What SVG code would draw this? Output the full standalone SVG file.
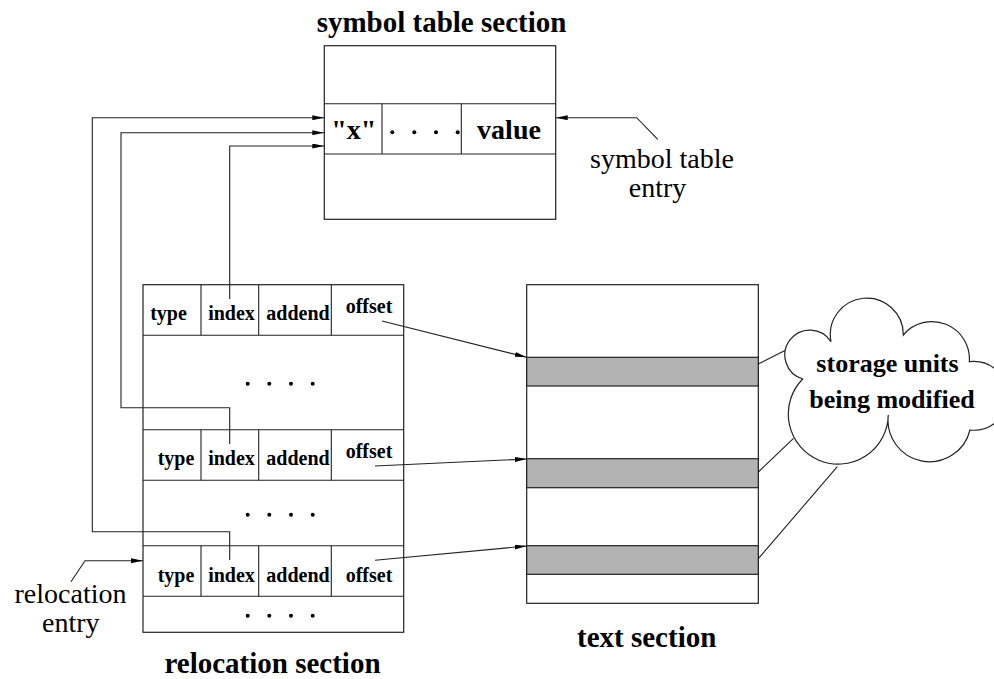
<svg xmlns="http://www.w3.org/2000/svg" width="994" height="679" viewBox="0 0 994 679">
  <style>
    .box { fill: #fff; stroke: #222; stroke-width: 1.2; }
    .band { fill: #b3b3b3; stroke: #222; stroke-width: 1.2; }
    .ln { fill: none; stroke: #222; stroke-width: 1.1; }
    .arr { fill: none; stroke: #222; stroke-width: 1.1; marker-end: url(#head); }
    .dot { fill: #000; }
    .title { font-family: "Liberation Serif", "Times New Roman", serif; font-weight: bold; font-size: 29px; text-anchor: middle; fill: #000; }
    .cell { font-family: "Liberation Serif", "Times New Roman", serif; font-weight: bold; font-size: 20px; text-anchor: middle; fill: #000; }
    .big { font-family: "Liberation Serif", "Times New Roman", serif; font-weight: bold; font-size: 28px; text-anchor: middle; fill: #000; }
    .cloudtxt { font-family: "Liberation Serif", "Times New Roman", serif; font-weight: bold; font-size: 26px; text-anchor: middle; fill: #000; }
    .note { font-family: "Liberation Serif", "Times New Roman", serif; font-size: 28px; text-anchor: middle; fill: #000; }
  </style>
  <defs>
    <marker id="head" viewBox="0 0 12 5" refX="12" refY="2.5" markerWidth="12" markerHeight="5" markerUnits="userSpaceOnUse" orient="auto">
      <path d="M0,0 L12,2.5 L0,5 Z" fill="#000"/>
    </marker>
  </defs>

  <!-- symbol table section -->
  <g id="symbol-table">
    <text class="title" x="441.5" y="32">symbol table section</text>
    <rect class="box" x="324.3" y="45.7" width="231.4" height="173.6"/>
    <line class="ln" x1="324.3" y1="103.7" x2="555.7" y2="103.7"/>
    <line class="ln" x1="324.3" y1="154" x2="555.7" y2="154"/>
    <line class="ln" x1="382" y1="103.7" x2="382" y2="154"/>
    <line class="ln" x1="461.3" y1="103.7" x2="461.3" y2="154"/>
    <text class="big" x="353.7" y="139.3">"x"</text>
    <circle class="dot" cx="392.3" cy="132.3" r="2"/>
    <circle class="dot" cx="414.3" cy="132.3" r="2"/>
    <circle class="dot" cx="436" cy="132.3" r="2"/>
    <circle class="dot" cx="457.7" cy="132.3" r="2"/>
    <text class="big" x="509" y="139.3">value</text>
  </g>

  <!-- relocation section -->
  <g id="relocation-section">
    <rect class="box" x="143" y="284.7" width="260.7" height="347.6"/>
    <line class="ln" x1="143" y1="335.3" x2="403.7" y2="335.3"/>
    <line class="ln" x1="143" y1="429.7" x2="403.7" y2="429.7"/>
    <line class="ln" x1="143" y1="480.3" x2="403.7" y2="480.3"/>
    <line class="ln" x1="143" y1="545.7" x2="403.7" y2="545.7"/>
    <line class="ln" x1="143" y1="596.3" x2="403.7" y2="596.3"/>
    <!-- column dividers of the three entries -->
    <path class="ln" d="M201,284.7 V335.3 M258.7,284.7 V335.3 M331.3,284.7 V335.3"/>
    <path class="ln" d="M201,429.7 V480.3 M258.7,429.7 V480.3 M331.3,429.7 V480.3"/>
    <path class="ln" d="M201,545.7 V596.3 M258.7,545.7 V596.3 M331.3,545.7 V596.3"/>

    <text class="cell" x="168.5" y="320">type</text>
    <text class="cell" x="231.5" y="320">index</text>
    <text class="cell" x="298" y="320">addend</text>
    <text class="cell" x="369" y="313.3">offset</text>

    <text class="cell" x="176" y="465">type</text>
    <text class="cell" x="231.5" y="465">index</text>
    <text class="cell" x="298" y="465">addend</text>
    <text class="cell" x="369" y="458.3">offset</text>

    <text class="cell" x="176" y="581.7">type</text>
    <text class="cell" x="231.5" y="581.7">index</text>
    <text class="cell" x="298" y="581.7">addend</text>
    <text class="cell" x="369" y="581.7">offset</text>

    <g class="dots">
      <circle class="dot" cx="247.7" cy="383.7" r="2"/>
      <circle class="dot" cx="269.3" cy="383.7" r="2"/>
      <circle class="dot" cx="291" cy="383.7" r="2"/>
      <circle class="dot" cx="312.7" cy="383.7" r="2"/>
      <circle class="dot" cx="247.7" cy="514.7" r="2"/>
      <circle class="dot" cx="269.3" cy="514.7" r="2"/>
      <circle class="dot" cx="291" cy="514.7" r="2"/>
      <circle class="dot" cx="312.7" cy="514.7" r="2"/>
      <circle class="dot" cx="247.7" cy="615.7" r="2"/>
      <circle class="dot" cx="269.3" cy="615.7" r="2"/>
      <circle class="dot" cx="291" cy="615.7" r="2"/>
      <circle class="dot" cx="312.7" cy="615.7" r="2"/>
    </g>
    <text class="title" x="272.5" y="672.5">relocation section</text>
  </g>

  <!-- text section -->
  <g id="text-section">
    <rect class="box" x="526.7" y="284.7" width="231.6" height="318.6"/>
    <rect class="band" x="526.7" y="357.3" width="231.6" height="28.7"/>
    <rect class="band" x="526.7" y="458.7" width="231.6" height="29"/>
    <rect class="band" x="526.7" y="545.7" width="231.6" height="28.6"/>
    <text class="title" x="646.7" y="646.5">text section</text>
  </g>

  <!-- callout cloud -->
  <g id="storage-cloud">
    <path class="box" d="M802.7,379 A25,25 0 1 1 831,341.7 A36.5,36.5 0 1 1 903.3,335 A37.4,37.4 0 0 1 969.3,361.7 A34.4,34.4 0 1 1 970,430 A41.6,41.6 0 0 1 888.3,415 A50,50 0 1 1 802.7,379 Z"/>
    <text class="cloudtxt" x="887.5" y="371.7">storage units</text>
    <text class="cloudtxt" x="892" y="408.3">being modified</text>
  </g>

  <!-- free-standing labels -->
  <g id="symbol-entry-label">
    <text class="note" x="662" y="168.3">symbol table</text>
    <text class="note" x="657.5" y="196.7">entry</text>
  </g>
  <g id="relocation-entry-label">
    <text class="note" x="70.5" y="603.3">relocation</text>
    <text class="note" x="70.8" y="631.7">entry</text>
  </g>

  <!-- connectors -->
  <g id="connectors">
    <!-- index fields to the symbol table entry -->
    <path class="arr" d="M229.7,299 V146 H324.3"/>
    <path class="arr" d="M229.7,444 V407.7 H121 V132.7 H324.3"/>
    <path class="arr" d="M229.7,560 V531.7 H92.3 V117.7 H324.3"/>
    <!-- offset fields to the storage units -->
    <path class="arr" d="M382,321 L526.7,357.3"/>
    <path class="arr" d="M375,466 L526.7,459"/>
    <path class="arr" d="M375,560.3 L526.7,546"/>
    <!-- label pointers -->
    <path class="arr" d="M657.7,139.3 L636.7,117.7 H555.7"/>
    <path class="arr" d="M71,581.7 L85,560.7 H143"/>
    <!-- cloud to the modified bands -->
    <line class="ln" x1="758.3" y1="364" x2="785" y2="350.5"/>
    <line class="ln" x1="758.3" y1="472" x2="793.5" y2="438.3"/>
    <line class="ln" x1="758.3" y1="558.7" x2="837.3" y2="466.7"/>
  </g>
</svg>
